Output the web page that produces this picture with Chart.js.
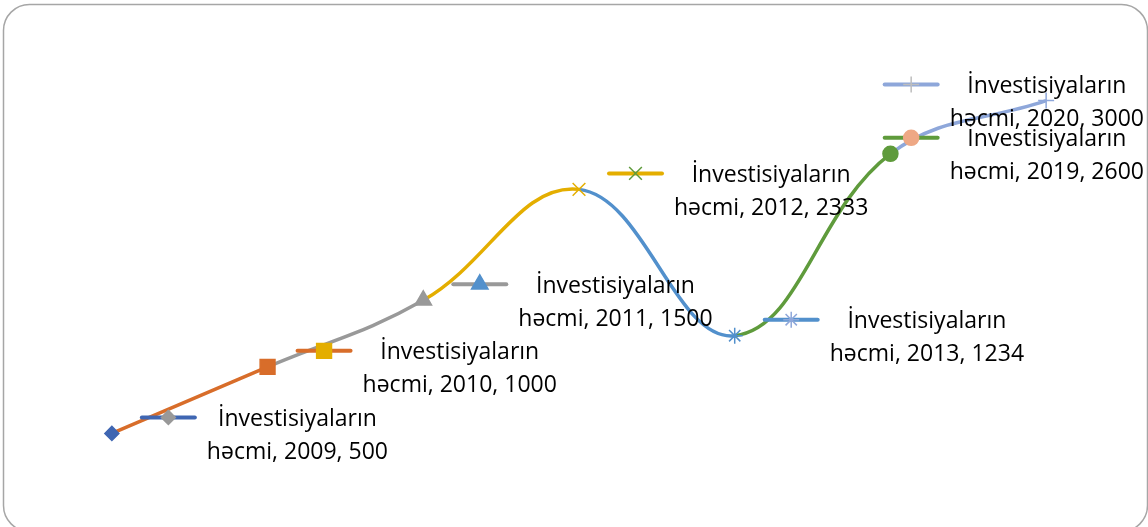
<!DOCTYPE html>
<html><head><meta charset="utf-8">
<script src="https://cdn.jsdelivr.net/npm/chart.js@4/dist/chart.umd.min.js"></script>
<style>html,body{margin:0;padding:0;background:#fff;overflow:hidden}#wrap{width:1148px;height:527px;position:relative}</style>
</head><body><div id="wrap"><canvas id="c" width="1148" height="527"></canvas></div>
<script>
const categories = ['2009','2010','2011','2012','2013','2019','2020'];
const values = [500, 1000, 1500, 2333, 1234, 2600, 3000];
const seriesName = 'İnvestisiyaların həcmi';
const pointColors = ['#3F66B2','#D86D2A','#999999','#E4AE00','#5290CC','#5F9B3C','#8EA7DA'];
const keyMarkerColors = ['#999999','#E4AE00','#5290CC','#5F9B3C','#8EA7DA','#EEA885','#BDBDBD'];
const pointStyles = ['rectRot','rect','triangle','crossRot','star','circle','cross'];
const pointRadii = [7, 10.5, 9.5, 9, 8, 7.5, 8];

const FAMILY = '"Open Sans","Noto Sans",sans-serif';
const nameParts = seriesName.split(' ');
const tmp = document.createElement('canvas').getContext('2d');
tmp.font = '20px ' + FAMILY;
const fontSize = 20 * 159 / tmp.measureText(nameParts[0]).width;
const FONT = fontSize.toFixed(2) + 'px ' + FAMILY;

const framePlugin = {
  id: 'frame',
  beforeDraw(chart) {
    const ctx = chart.ctx;
    ctx.save();
    ctx.strokeStyle = '#A6A6A6';
    ctx.lineWidth = 1.5;
    ctx.beginPath();
    ctx.roundRect(3.5, 4.5, 1144, 527, 26);
    ctx.stroke();
    ctx.restore();
  }
};

const labelPlugin = {
  id: 'lbl',
  afterDatasetsDraw(chart) {
    const ctx = chart.ctx;
    const meta = chart.getDatasetMeta(0);
    ctx.save();
    ctx.font = FONT;
    meta.data.forEach((pt, i) => {
      const l1 = nameParts[0];
      const l2 = nameParts[1] + ', ' + categories[i] + ', ' + values[i];
      const w = Math.max(ctx.measureText(l1).width, ctx.measureText(l2).width);
      const keyW = 53, gap = 12;
      let keyL = pt.x + 30;
      const right = keyL + keyW + gap + w;
      keyL += Math.min(0, 1144 - right);
      const ky = pt.y - 16;
      ctx.strokeStyle = pointColors[i];
      ctx.lineWidth = 4;
      ctx.lineCap = 'round';
      ctx.beginPath(); ctx.moveTo(keyL, ky); ctx.lineTo(keyL + keyW, ky); ctx.stroke();
      ctx.fillStyle = keyMarkerColors[i];
      ctx.strokeStyle = keyMarkerColors[i];
      ctx.lineWidth = 1.5;
      ctx.lineCap = 'butt';
      Chart.helpers.drawPoint(ctx, {pointStyle: pointStyles[i], radius: pointRadii[i], rotation: 0, borderWidth: 1.5}, keyL + keyW / 2, ky);
      const tc = keyL + keyW + gap + w / 2;
      ctx.fillStyle = '#000';
      ctx.textAlign = 'center';
      ctx.textBaseline = 'middle';
      ctx.fillText(l1, tc, ky + 2);
      ctx.fillText(l2, tc, ky + 35);
    });
    ctx.restore();
  }
};

new Chart(document.getElementById('c'), {
  type: 'line',
  data: {
    labels: categories,
    datasets: [{
      label: seriesName,
      data: values,
      borderWidth: 3.5,
      tension: 0.4,
      borderColor: pointColors[0],
      segment: { borderColor: c => pointColors[c.p1DataIndex] },
      pointStyle: pointStyles,
      pointRadius: pointRadii,
      pointBackgroundColor: pointColors,
      pointBorderColor: pointColors,
      pointBorderWidth: 1.5,
      fill: false
    }]
  },
  options: {
    responsive: false,
    animation: false,
    layout: { padding: { left: 34, right: 24, top: 34, bottom: 27 } },
    plugins: { legend: { display: false }, tooltip: { enabled: false } },
    scales: {
      x: { display: false, offset: true },
      y: { display: false, min: 0, max: 3500 }
    }
  },
  plugins: [framePlugin, labelPlugin]
});
</script></body></html>
